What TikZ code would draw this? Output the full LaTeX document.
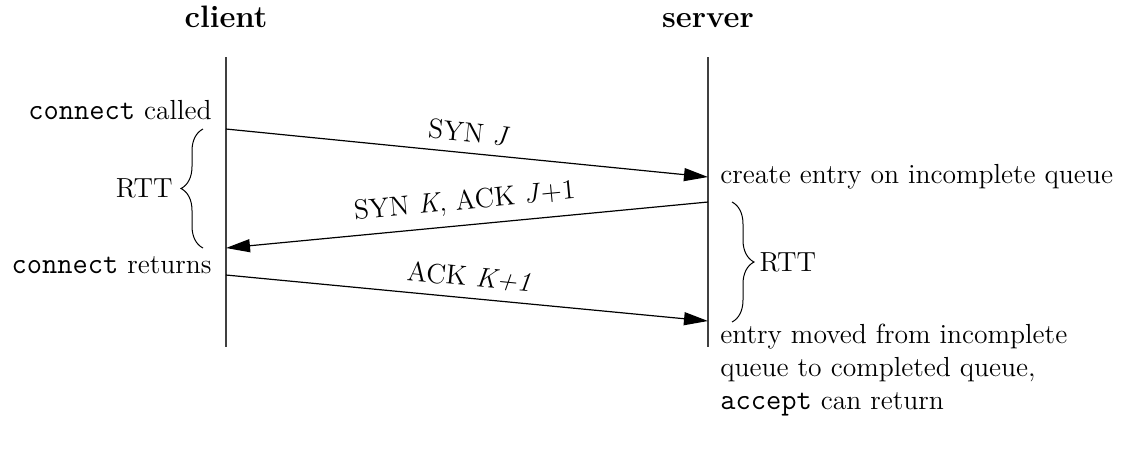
\documentclass[tikz,border=0pt]{standalone}
\usepackage{fontspec}
\usetikzlibrary{arrows.meta, decorations.pathreplacing}
\newcommand{\prog}[1]{{\fontsize{14.8}{16.3}\selectfont\ttfamily #1}}

\begin{document}
\begin{tikzpicture}[
    x = 0.5pt, y = -0.5pt,
    every node/.style = {font = \fontsize{13.8}{16.3}\selectfont, inner sep = 0pt},
    head/.style = {font = \fontsize{15.5}{18}\selectfont\bfseries},
    life/.style = {line width = 0.7pt, black!75},
    msg/.style = {line width = 0.6pt, -{Triangle[length = 12pt, width = 6.5pt]}},
    brc/.style = {decorate, line width = 0.5pt, decoration = {brace, amplitude = 11pt}},
]
\useasboundingbox (0,0) rectangle (1130,468);

% the two ends
\node[head, anchor = base] (client) at (226,27) {client};
\node[head, anchor = base] (server) at (708,27) {server};
\coordinate (c0) at (226,57);  \coordinate (c1) at (226,347);
\coordinate (s0) at (708,57);  \coordinate (s1) at (708,347);
\draw[life] (c0) -- (c1);
\draw[life] (s0) -- (s1);

% points of the handshake
\coordinate (cA) at (226,129);  \coordinate (sA) at (708,177);
\coordinate (sB) at (708,202);  \coordinate (cB) at (226,248);
\coordinate (cC) at (226,275);  \coordinate (sC) at (708,321);

\draw[msg] (cA) -- node[sloped, above = 5pt] {SYN \textit{J}} (sA);
\draw[msg] (sB) -- node[sloped, above = 5pt] {SYN \textit{K}, ACK \textit{J}+1} (cB);
\draw[msg] (cC) -- node[sloped, above = 5pt] {ACK \textit{K+1}} (sC);

% client side
\node[anchor = base east] (called) at (212,119) {\prog{connect} called};
\node[anchor = base east] (returns) at (212,273) {\prog{connect} returns};
\draw[brc] (203,248) -- node[left = 15pt] (rttc) {RTT} (203,129);

% server side
\node[anchor = base west] (create) at (720,183) {create entry on incomplete queue};
\node[anchor = north west, align = left] (moved) at (720,324)
    {entry moved from incomplete\\queue to completed queue,\\\prog{accept} can return};
\draw[brc] (732,202) -- node[right = 13.5pt] (rtts) {RTT} (732,322);
\end{tikzpicture}
\end{document}
